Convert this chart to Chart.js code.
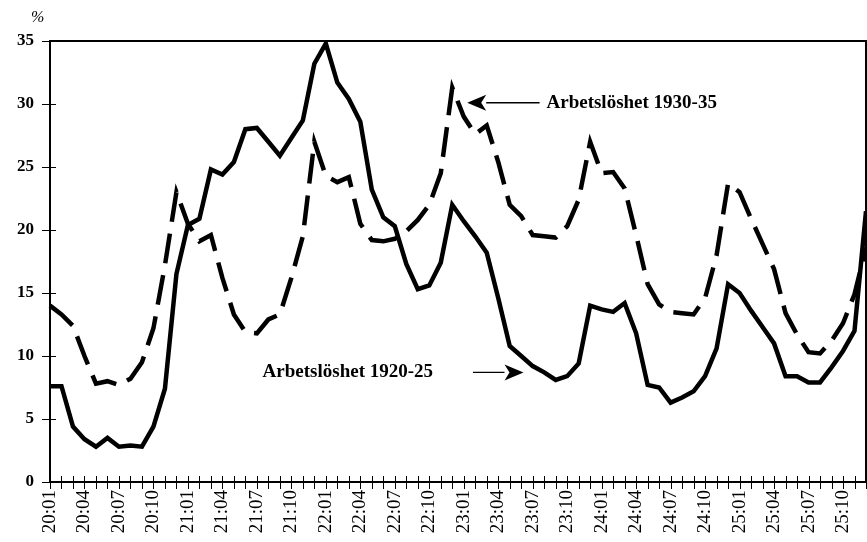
<!DOCTYPE html>
<html>
<head>
<meta charset="utf-8">
<script src="https://cdn.jsdelivr.net/npm/chart.js@4.4.1/dist/chart.umd.min.js"></script>
<style>
  html, body { margin: 0; padding: 0; background: #fff; }
</style>
</head>
<body>
<canvas id="myChart" width="867" height="542"></canvas>
<script>
// months 20:01 .. 25:12
const years = ['20', '21', '22', '23', '24', '25']
const months = ['01', '02', '03', '04', '05', '06', '07', '08', '09', '10', '11', '12']
const labels = []
years.forEach(y => months.forEach(m => labels.push(y + ':' + m)))

const yTicks = [0, 5, 10, 15, 20, 25, 30, 35]

// Arbetslöshet 1920-25 (solid)
const unemp1920 = [
    7.6, 7.6, 4.4, 3.4, 2.8, 3.5, 2.8, 2.9, 2.8, 4.4, 7.4, 16.5,
    20.4, 20.9, 24.8, 24.4, 25.4, 28.0, 28.1, 27.0, 25.9, 27.3, 28.7, 33.2,
    34.8, 31.7, 30.4, 28.6, 23.2, 21.0, 20.3, 17.3, 15.3, 15.6, 17.4, 22.0,
    20.7, 19.5, 18.2, 14.6, 10.8, 10.0, 9.2, 8.7, 8.1, 8.4, 9.4, 14.0,
    13.7, 13.5, 14.2, 11.8, 7.7, 7.5, 6.3, 6.7, 7.2, 8.4, 10.6, 15.7,
    15.0, 13.6, 12.3, 11.0, 8.4, 8.4, 7.9, 7.9, 9.1, 10.4, 12.0, 21.5
]

// Arbetslöshet 1930-35 (dashed)
const unemp1930 = [
    14.0, 13.3, 12.4, 10.0, 7.8, 8.0, 7.7, 8.2, 9.5, 12.2, 17.2, 23.0,
    20.5, 19.1, 19.6, 16.2, 13.3, 11.9, 11.8, 12.9, 13.3, 16.2, 19.5, 27.0,
    24.3, 23.8, 24.2, 20.5, 19.2, 19.1, 19.3, 19.9, 20.8, 22.0, 24.5, 31.3,
    29.0, 27.6, 28.3, 25.4, 22.0, 21.1, 19.6, 19.5, 19.4, 20.3, 22.4, 27.0,
    24.5, 24.6, 23.3, 19.6, 15.7, 14.1, 13.5, 13.4, 13.3, 14.6, 18.0, 23.7,
    23.0, 20.9, 18.9, 16.9, 13.4, 11.7, 10.3, 10.2, 11.2, 12.6, 14.9, 18.6
]

// annotation text + arrows, positioned in data units (index, %)
const notes = [
    { text: 'Arbetslöshet 1930-35', textX: 43.2, y: 30.1, tailX: 42.6, tipX: 36.3, dir: -1 },
    { text: 'Arbetslöshet 1920-25', textX: 18.5, y: 8.7, tailX: 36.8, tipX: 41.2, dir: 1 }
]

const serif = '"Liberation Serif", "Times New Roman", serif'

const framePlugin = {
    id: 'frame',
    afterDraw(chart) {
        const ctx = chart.ctx
        const a = chart.chartArea
        const x = chart.scales.x
        const y = chart.scales.y
        ctx.save()
        ctx.strokeStyle = '#000'
        ctx.lineWidth = 2
        ctx.strokeRect(a.left, a.top, a.right - a.left, a.bottom - a.top)

        // crossing tick marks
        ctx.lineWidth = 1
        for (let i = 0; i < labels.length; i++) {
            const px = Math.round(x.getPixelForValue(i)) + 0.5
            ctx.beginPath()
            ctx.moveTo(px, a.bottom - 6)
            ctx.lineTo(px, a.bottom + 7)
            ctx.stroke()
        }
        yTicks.forEach(v => {
            const py = Math.round(y.getPixelForValue(v)) + 0.5
            ctx.beginPath()
            ctx.moveTo(a.left - 8, py)
            ctx.lineTo(a.left + 6, py)
            ctx.stroke()
        })

        // % unit
        ctx.fillStyle = '#000'
        ctx.font = 'italic 16px ' + serif
        ctx.textAlign = 'left'
        ctx.textBaseline = 'middle'
        ctx.fillText('%', 31, 18)

        // annotations
        ctx.font = 'bold 19px ' + serif
        notes.forEach(n => {
            const py = y.getPixelForValue(n.y)
            ctx.textAlign = 'left'
            ctx.textBaseline = 'middle'
            ctx.fillText(n.text, x.getPixelForValue(n.textX), py)

            const tail = x.getPixelForValue(n.tailX)
            const tip = x.getPixelForValue(n.tipX)
            const base = tip - n.dir * 19
            ctx.lineWidth = 1.3
            ctx.beginPath()
            ctx.moveTo(tail, py)
            ctx.lineTo(base, py)
            ctx.stroke()
            ctx.beginPath()
            ctx.moveTo(tip, py)
            ctx.lineTo(base, py - 8)
            ctx.lineTo(base + n.dir * 5, py)
            ctx.lineTo(base, py + 8)
            ctx.closePath()
            ctx.fill()
        })
        ctx.restore()
    }
}

const dataConfig = {
    labels: labels,
    datasets: [{
        label: 'Arbetslöshet 1920-25',
        data: unemp1920,
        borderColor: '#000',
        borderWidth: 4.5,
        pointRadius: 0,
        tension: 0,
        borderJoinStyle: 'miter'
    }, {
        label: 'Arbetslöshet 1930-35',
        data: unemp1930,
        borderColor: '#000',
        borderWidth: 4.5,
        borderDash: [30, 12],
        pointRadius: 0,
        tension: 0,
        borderJoinStyle: 'miter'
    }]
}

const config = {
    type: 'line',
    data: dataConfig,
    options: {
        responsive: false,
        animation: false,
        devicePixelRatio: 1,
        layout: { padding: { top: 41, right: 1, left: 0, bottom: 0 } },
        plugins: {
            legend: { display: false },
            tooltip: { enabled: false }
        },
        scales: {
            x: {
                type: 'category',
                offset: false,
                grid: { display: false, drawTicks: false },
                border: { display: false },
                afterFit: s => {
                    s.height = 60
                    s.paddingLeft = 0
                    s.paddingRight = 0
                },
                ticks: {
                    autoSkip: false,
                    maxRotation: 90,
                    minRotation: 90,
                    padding: 8,
                    color: '#000',
                    font: { family: serif, size: 19 },
                    callback: (val, i) => i % 3 === 0 ? labels[i] : ''
                }
            },
            y: {
                min: 0,
                max: 35,
                grid: { display: false, drawTicks: false },
                border: { display: false },
                afterFit: s => {
                    s.width = 50
                    s.paddingTop = 0
                    s.paddingBottom = 0
                },
                ticks: {
                    stepSize: 5,
                    padding: 16,
                    color: '#000',
                    font: { family: serif, size: 17, weight: 'bold' }
                }
            }
        }
    },
    plugins: [framePlugin]
}

const myChart = new Chart(document.getElementById('myChart'), config)
</script>
</body>
</html>
